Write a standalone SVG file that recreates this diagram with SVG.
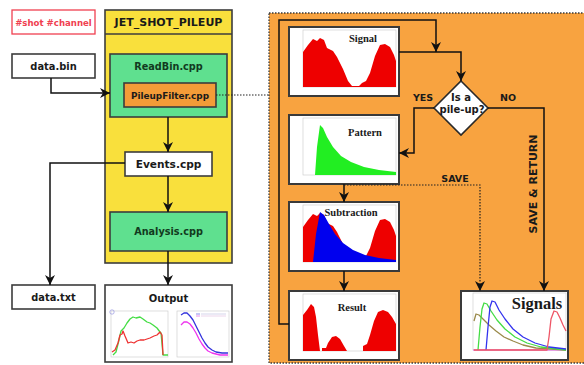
<svg xmlns="http://www.w3.org/2000/svg" width="584" height="365" viewBox="0 0 584 365">
<defs>
<marker id="ah" markerUnits="userSpaceOnUse" markerWidth="11" markerHeight="10" refX="10" refY="5" orient="auto">
<path d="M0,0 L10,5 L0,10 L3,5 Z" fill="#111"/>
</marker>
<style>
.lbl{font-family:"DejaVu Sans",Verdana,sans-serif;font-weight:bold;fill:#1a1a1a;text-anchor:middle}
.ttl{font-family:"Liberation Serif","Times New Roman",serif;font-weight:bold;fill:#1a1a1a;text-anchor:middle}
.box{stroke:#3c3c3c;stroke-width:1.6}
.plot{fill:#fff;stroke:#3a3a3a;stroke-width:2}
.frame{fill:none;stroke:#c8c8c8;stroke-width:0.6}
.con{fill:none;stroke:#111;stroke-width:1.5}
.dot{fill:none;stroke:#222;stroke-width:1.2;stroke-dasharray:1.5 1.5}
.crv{fill:none;stroke-width:1.3;stroke-linejoin:round}
</style>
</defs>
<rect width="584" height="365" fill="#fff"/>

<g id="orange-panel">
<rect x="269" y="13" width="320" height="350" fill="#f8a340" stroke="#3a3a3a" stroke-width="1.3" stroke-dasharray="1.5 1.5"/>
</g>

<g id="shot-channel">
<rect x="12" y="10" width="83" height="24" fill="#fff" stroke="#f04050" stroke-width="1.3"/>
<text x="53.5" y="25.5" class="lbl" style="fill:#f04050;font-size:8.6px">#shot #channel</text>
</g>

<g id="jet-shot-pileup">
<rect x="105" y="10" width="127" height="253" fill="#f9e03c" class="box"/>
<line x1="105" y1="34" x2="232" y2="34" stroke="#3c3c3c" stroke-width="1.6"/>
<text x="168.5" y="26" class="lbl" style="font-size:11px">JET_SHOT_PILEUP</text>
</g>

<g id="data-bin">
<rect x="12" y="54" width="83" height="24" fill="#fff" class="box"/>
<text x="53.5" y="69.5" class="lbl" style="font-size:9.9px">data.bin</text>
</g>

<g id="readbin">
<rect x="110" y="54" width="117" height="63" fill="#5fe08f" class="box"/>
<text x="168.5" y="69.5" class="lbl" style="font-size:9.7px;fill:#123a20">ReadBin.cpp</text>
</g>

<g id="pileupfilter">
<rect x="124" y="83" width="92" height="24" fill="#f39c38" class="box"/>
<text x="170" y="98.5" class="lbl" style="font-size:8.9px">PileupFilter.cpp</text>
</g>

<g id="events">
<rect x="125" y="152" width="87" height="24" fill="#fff" class="box"/>
<text x="168.5" y="168" class="lbl" style="font-size:10.6px">Events.cpp</text>
</g>

<g id="analysis">
<rect x="110" y="212" width="117" height="39" fill="#5fe08f" class="box"/>
<text x="168.5" y="234.5" class="lbl" style="font-size:9.7px;fill:#123a20">Analysis.cpp</text>
</g>

<g id="data-txt">
<rect x="12" y="285" width="83" height="24" fill="#fff" class="box"/>
<text x="53.5" y="300.5" class="lbl" style="font-size:9.8px">data.txt</text>
</g>

<g id="output">
<rect x="105" y="285" width="127" height="77" fill="#fff" class="box"/>
<text x="168.5" y="302" class="lbl" style="font-size:10px">Output</text>
<rect x="111" y="311" width="57" height="46" class="frame"/>
<circle cx="112" cy="312" r="2.2" fill="none" stroke="#8888dd" stroke-width="0.6"/>
<polyline class="crv" stroke="#44dd44" points="113,355 116,352 119,340 121,331 124,328 127,323 130,319 133,317 136,318 140,317 143,319 147,322 150,323 153,325 157,328 160,332 161,333 163,355 168,355"/>
<polyline class="crv" stroke="#ee3333" points="112,352 115,350 118,343 120,335 122,334 123,331 125,336 128,343 131,342 134,343 137,341 140,340 144,340 147,339 150,338 154,336 157,335 160,332 162,335 163,355"/>
<rect x="177" y="311" width="52" height="46" class="frame"/>
<line x1="196" y1="314" x2="200" y2="314" stroke="#4444dd" stroke-width="0.6"/>
<line x1="196" y1="316" x2="200" y2="316" stroke="#dd44dd" stroke-width="0.6"/>
<line x1="201" y1="314" x2="226" y2="314" stroke="#bbbbdd" stroke-width="0.6"/>
<line x1="201" y1="316" x2="226" y2="316" stroke="#ddbbdd" stroke-width="0.6"/>
<polyline class="crv" stroke="#ee33ee" stroke-width="2.2" points="181,325 184,322 187,322 190,324 193,328 196,333 199,339 202,344 205,348 208,351 212,353 216,354 220,355 224,355 228,355"/>
<polyline class="crv" stroke="#3333dd" stroke-width="1.6" points="181,315 184,313 187,313 190,316 193,320 196,326 199,332 202,338 205,343 208,347 212,350 216,352 222,353 228,353"/>
</g>

<g id="signal">
<g transform="translate(289,27)">
<rect x="0" y="0" width="110" height="69" class="plot"/>
<rect x="14" y="3" width="93" height="57" class="frame"/>
<path d="M14,25 L19,18 L24,12 L28,14 L31,11 L35,13 L38,21 L44,24 L48,30 L54,42 L59,54 L63,59 L67,59 L70,59 L73,56 L77,54 L81,46 L86,29 L91,18 L96,17 L101,20 L105,28 L107,34 L107,60 L14,60 Z" fill="#ee0000"/>
<text x="74" y="14.5" class="ttl" style="font-size:10.5px">Signal</text>
</g>
</g>

<g id="pattern">
<g transform="translate(289,115)">
<rect x="0" y="0" width="110" height="69" class="plot"/>
<rect x="14" y="3" width="93" height="57" class="frame"/>
<path d="M26,60 L28,32 L31,10 L34,13 L38,22 L44,32 L52,41 L62,47 L75,52 L90,55 L107,57 L107,60 Z" fill="#22ee22"/>
<text x="76" y="20.5" class="ttl" style="font-size:10.5px">Pattern</text>
</g>
</g>

<g id="subtraction">
<g transform="translate(289,202)">
<rect x="0" y="0" width="110" height="69" class="plot"/>
<rect x="14" y="3" width="93" height="57" class="frame"/>
<path d="M14,25 L19,18 L24,12 L28,14 L31,11 L35,13 L38,21 L44,24 L48,30 L54,42 L59,54 L63,59 L67,59 L70,59 L73,56 L77,54 L81,46 L86,29 L91,18 L96,17 L101,20 L105,28 L107,34 L107,60 L14,60 Z" fill="#ee0000"/>
<path d="M24,60 L27,32 L31,10 L35,13 L40,22 L46,32 L54,41 L64,48 L76,53 L90,56 L107,58 L107,60 Z" fill="#0000ee"/>
<text x="62" y="14" class="ttl" style="font-size:10.5px">Subtraction</text>
</g>
</g>

<g id="result">
<g transform="translate(289,291)">
<rect x="0" y="0" width="110" height="69" class="plot"/>
<rect x="14" y="3" width="93" height="57" class="frame"/>
<path d="M14,24 L18,19 L22,13 L25,16 L27,26 L29,44 L31,60 L14,60 Z" fill="#ee0000"/>
<path d="M33,60 L33,57 L37,57 L39,52 L43,46 L47,45 L51,48 L55,55 L58,60 Z" fill="#ee0000"/>
<path d="M74,60 L74,55 L78,53 L81,44 L85,30 L89,21 L94,19 L99,21 L103,26 L107,33 L107,60 Z" fill="#ee0000"/>
<text x="63" y="19.5" class="ttl" style="font-size:10.5px">Result</text>
</g>
</g>

<g id="signals">
<g transform="translate(461,291)">
<rect x="0" y="0" width="107" height="69" class="plot"/>
<rect x="12" y="2" width="93" height="57" class="frame"/>
<line x1="12" y1="59" x2="105" y2="59" stroke="#dd55dd" stroke-width="1"/>
<polyline class="crv" stroke="#9a8a4a" points="13,30 15,23 18,24 22,28 28,34 35,40 43,46 52,50 62,54 75,57 90,58 105,59"/>
<polyline class="crv" stroke="#44dd44" points="17,59 19,36 21,18 23,12 26,13 30,20 36,29 44,38 54,46 66,52 80,56 105,59"/>
<polyline class="crv" stroke="#3333ee" points="25,59 27,36 29,16 31,10 34,11 38,19 44,28 52,38 62,46 74,52 88,56 105,58"/>
<polyline class="crv" stroke="#ee5566" points="13,59 86,59 88,46 90,28 93,20 96,21 99,27 102,34 105,40"/>
<text x="76" y="17.5" class="ttl" style="font-size:16.5px">Signals</text>
</g>
</g>

<g id="decision">
<path d="M461,81 L488,108 L461,135 L434,108 Z" fill="#fff" stroke="#2a2a2a" stroke-width="1.6"/>
<text x="461" y="100.5" class="lbl" style="font-size:10px">Is a</text>
<text x="462" y="112.5" class="lbl" style="font-size:10px">pile-up?</text>
</g>

<g id="connectors">
<path class="con" d="M51,78 V93 H110" marker-end="url(#ah)"/>
<path class="con" d="M168,117 V152" marker-end="url(#ah)"/>
<path class="con" d="M125,163 H50 V285" marker-end="url(#ah)"/>
<path class="con" d="M168,176 V212" marker-end="url(#ah)"/>
<path class="con" d="M168,251 V285" marker-end="url(#ah)"/>
<path class="dot" d="M216,95 H269"/>
<path class="con" d="M289,324 H279 V20 H436 V52" marker-end="url(#ah)"/>
<path class="con" d="M399,52 H461 V81" marker-end="url(#ah)"/>
<path class="con" d="M434,108 H414 V153 H399" marker-end="url(#ah)"/>
<path class="con" d="M488,108 H544 V291" marker-end="url(#ah)"/>
<path class="con" d="M344,184 V202" marker-end="url(#ah)"/>
<path class="dot" d="M344,185 H480 V291" marker-end="url(#ah)"/>
<path class="con" d="M344,271 V291" marker-end="url(#ah)"/>
<text x="423" y="100.5" class="lbl" style="font-size:9.5px">YES</text>
<text x="508" y="100.5" class="lbl" style="font-size:9.5px">NO</text>
<text x="455" y="182" class="lbl" style="font-size:9.5px">SAVE</text>
<text x="0" y="0" class="lbl" style="font-size:11px" transform="translate(537,184) rotate(-90)">SAVE &amp; RETURN</text>
</g>
</svg>
